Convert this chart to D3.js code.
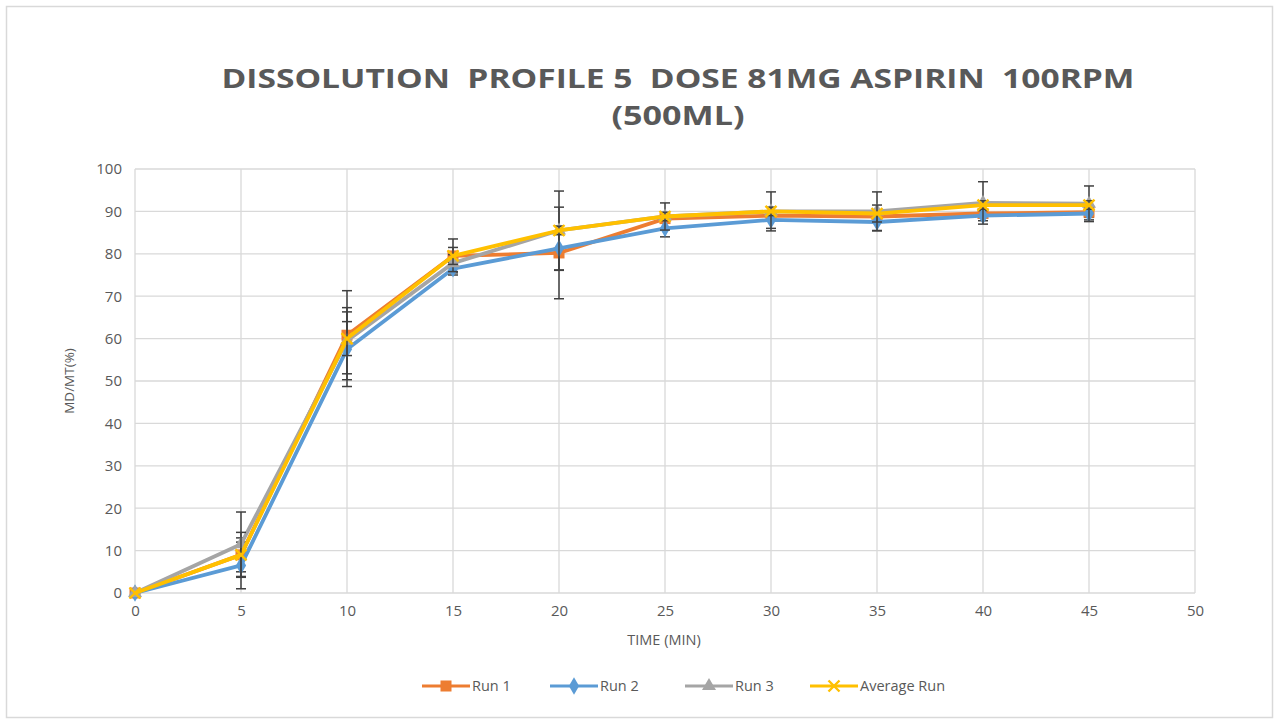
<!DOCTYPE html>
<html>
<head>
<meta charset="utf-8">
<script src="https://cdn.jsdelivr.net/npm/d3@7"></script>
<style>
  body { margin: 0; background: #fff; }
  svg { display: block; }
  text { font-family: "Open Sans", "Liberation Sans", sans-serif; fill: #595959; }
</style>
</head>
<body>
<div id="chart"></div>
<script>
// data
var times = [0, 5, 10, 15, 20, 25, 30, 35, 40, 45];
var run1 = [0, 9, 60.8, 79.5, 80.2, 88.3, 89, 88.8, 89.5, 89.8];
var run1Err = [0, 4, 10.5, 4, 10.8, 1, 1, 1, 1, 1.2];
var run2 = [0, 6.5, 57.5, 76.5, 81.3, 86, 88, 87.5, 89, 89.5];
var run2Err = [0, 5.5, 8.8, 1.5, 5.2, 2, 2, 2, 1.2, 1.5];
var run3 = [0, 11.5, 59.5, 77.8, 85.5, 88.8, 90, 90, 92, 91.8];
var run3Err = [0, 7.6, 7.8, 2, 9.3, 3.2, 4.6, 4.6, 5, 4.2];
var avgRun = [0, 9, 60, 79.5, 85.5, 88.8, 90, 89.5, 91.5, 91.5];
var avgErr = [0, 5.3, 4, 2, 1, 1, 1, 2, 1, 1];
var seriesNames = ["Run 1", "Run 2", "Run 3", "Average Run"];
var xTicks = [0, 5, 10, 15, 20, 25, 30, 35, 40, 45, 50];
var yTicks = [0, 10, 20, 30, 40, 50, 60, 70, 80, 90, 100];

var series = [
  { name: seriesNames[0], values: run1, err: run1Err, color: "#ED7D31", marker: "square" },
  { name: seriesNames[1], values: run2, err: run2Err, color: "#5B9BD5", marker: "diamond" },
  { name: seriesNames[2], values: run3, err: run3Err, color: "#A5A5A5", marker: "triangle" },
  { name: seriesNames[3], values: avgRun, err: avgErr, color: "#FFC000", marker: "cross" }
];

var W = 1279, H = 723;
var margin = { left: 135, right: 84, top: 169, bottom: 130 };
var width = W - margin.left - margin.right;
var height = H - margin.top - margin.bottom;

var svg = d3.select("#chart").append("svg")
    .attr("width", W)
    .attr("height", H);

// chart frame
svg.append("rect")
    .attr("x", 6.5).attr("y", 6.5)
    .attr("width", 1266).attr("height", 711)
    .attr("fill", "#fff")
    .attr("stroke", "#D9D9D9")
    .attr("stroke-width", 1.5);

// title
svg.append("text")
    .attr("x", 678).attr("y", 88)
    .attr("text-anchor", "middle")
    .attr("font-size", 26).attr("font-weight", "bold")
    .attr("textLength", 913).attr("lengthAdjust", "spacingAndGlyphs")
    .style("white-space", "pre")
    .text("DISSOLUTION  PROFILE 5  DOSE 81MG ASPIRIN  100RPM");
svg.append("text")
    .attr("x", 678).attr("y", 125)
    .attr("text-anchor", "middle")
    .attr("font-size", 26).attr("font-weight", "bold")
    .attr("textLength", 133).attr("lengthAdjust", "spacingAndGlyphs")
    .text("(500ML)");

var g = svg.append("g")
    .attr("transform", "translate(" + margin.left + "," + margin.top + ")");

var x = d3.scaleLinear().domain([0, 50]).range([0, width]);
var y = d3.scaleLinear().domain([0, 100]).range([height, 0]);

// grid
g.append("g").selectAll("line").data(yTicks).enter().append("line")
    .attr("x1", 0).attr("x2", width)
    .attr("y1", function(d) { return y(d); })
    .attr("y2", function(d) { return y(d); })
    .attr("stroke", "#D9D9D9").attr("stroke-width", 1.3);
g.append("g").selectAll("line").data(xTicks).enter().append("line")
    .attr("y1", 0).attr("y2", height)
    .attr("x1", function(d) { return x(d); })
    .attr("x2", function(d) { return x(d); })
    .attr("stroke", "#D9D9D9").attr("stroke-width", 1.3);

var xAxis = d3.axisBottom(x).tickValues(xTicks).tickSize(0).tickPadding(12);
var yAxis = d3.axisLeft(y).tickValues(yTicks).tickSize(0).tickPadding(13);

g.append("g")
    .attr("transform", "translate(0," + height + ")")
    .call(xAxis)
    .call(function(s) { s.select(".domain").remove(); })
    .selectAll("text")
    .attr("font-size", 15).attr("fill", "#595959")
    .style("font-family", "\"Open Sans\", sans-serif");

g.append("g")
    .call(yAxis)
    .call(function(s) { s.select(".domain").remove(); })
    .selectAll("text")
    .attr("font-size", 15).attr("fill", "#595959")
    .style("font-family", "\"Open Sans\", sans-serif");

// axis titles
svg.append("text")
    .attr("x", margin.left + width / 2 - 1).attr("y", 645)
    .attr("text-anchor", "middle").attr("font-size", 14.5)
    .text("TIME (MIN)");
svg.append("text")
    .attr("transform", "translate(74," + (margin.top + height / 2) + ") rotate(-90)")
    .attr("text-anchor", "middle").attr("font-size", 13.5)
    .text("MD/MT(%)");

var line = d3.line()
    .x(function(d, i) { return x(times[i]); })
    .y(function(d) { return y(d); });

function drawMarker(sel, type, color, cx, cy) {
  if (type === "square") {
    sel.append("rect")
        .attr("x", cx - 5.5).attr("y", cy - 5.5)
        .attr("width", 11).attr("height", 11)
        .attr("fill", color);
  } else if (type === "diamond") {
    sel.append("path")
        .attr("d", d3.symbol().type(d3.symbolDiamond).size(90)())
        .attr("transform", "translate(" + cx + "," + cy + ")")
        .attr("fill", color);
  } else if (type === "triangle") {
    sel.append("path")
        .attr("d", d3.symbol().type(d3.symbolTriangle).size(85)())
        .attr("transform", "translate(" + cx + "," + cy + ")")
        .attr("fill", color);
  } else {
    sel.append("path")
        .attr("d", "M" + (cx - 5.5) + "," + (cy - 5.5) + "L" + (cx + 5.5) + "," + (cy + 5.5) +
                   "M" + (cx - 5.5) + "," + (cy + 5.5) + "L" + (cx + 5.5) + "," + (cy - 5.5))
        .attr("stroke", color).attr("stroke-width", 2.4).attr("fill", "none");
  }
}

series.forEach(function(s) {
  var sg = g.append("g");
  sg.append("path")
      .datum(s.values)
      .attr("fill", "none")
      .attr("stroke", s.color)
      .attr("stroke-width", 3.8)
      .attr("stroke-linejoin", "round")
      .attr("d", line);

  // error bars
  s.values.forEach(function(v, i) {
    if (!s.err[i]) return;
    var cx = x(times[i]);
    var lo = y(v - s.err[i]), hi = y(v + s.err[i]);
    var eb = sg.append("g").attr("stroke", "#404040").attr("stroke-width", 1.5);
    eb.append("line").attr("x1", cx).attr("x2", cx).attr("y1", lo).attr("y2", hi);
    eb.append("line").attr("x1", cx - 5).attr("x2", cx + 5).attr("y1", lo).attr("y2", lo);
    eb.append("line").attr("x1", cx - 5).attr("x2", cx + 5).attr("y1", hi).attr("y2", hi);
  });

  s.values.forEach(function(v, i) {
    drawMarker(sg, s.marker, s.color, x(times[i]), y(v));
  });
});

// legend
var legendX = [422, 550, 685, 810];
var legend = svg.append("g");
series.forEach(function(s, i) {
  var lx = legendX[i], ly = 686;
  legend.append("line")
      .attr("x1", lx).attr("x2", lx + 48)
      .attr("y1", ly).attr("y2", ly)
      .attr("stroke", s.color).attr("stroke-width", 3.2);
  drawMarker(legend, s.marker, s.color, lx + 24, ly);
  legend.append("text")
      .attr("x", lx + 50).attr("y", ly + 5)
      .attr("font-size", 14.5)
      .text(s.name);
});
</script>
</body>
</html>
